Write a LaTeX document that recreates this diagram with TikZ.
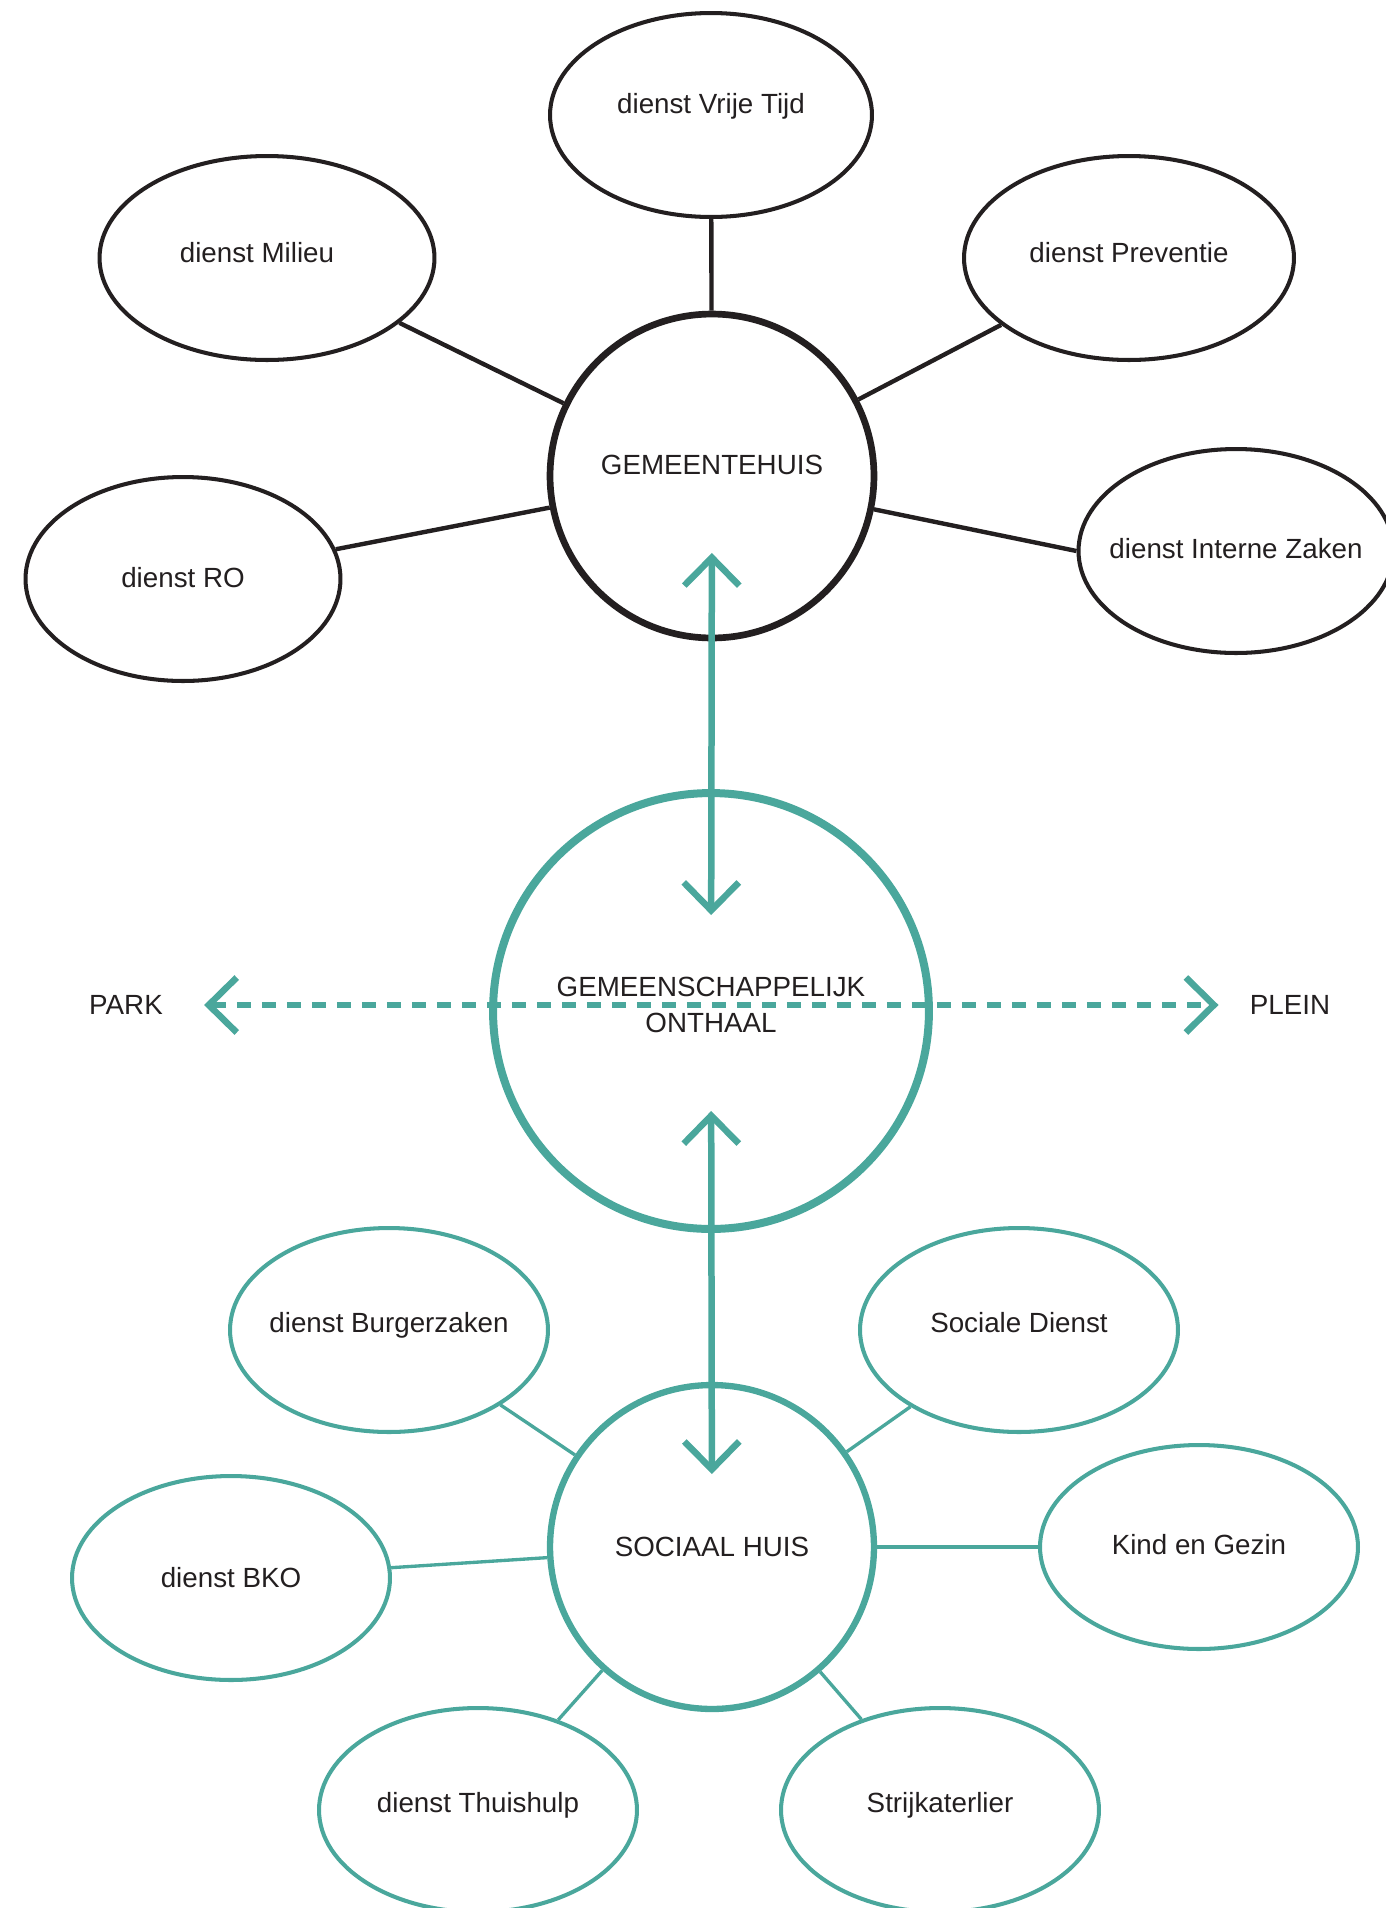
\documentclass[tikz,border=0pt]{standalone}
\usepackage{fontspec}
\setmainfont{Liberation Sans}
\usetikzlibrary{arrows.meta,shapes.geometric}
\definecolor{inkt}{HTML}{231F20}
\definecolor{groen}{HTML}{4AA79C}

\begin{document}
\begin{tikzpicture}[
		x=0.02cm, y=-0.02cm,
		every node/.style={inner sep=0pt, text=inkt, font=\fontsize{15.8}{20.7}\selectfont},
		every label/.append style={align=center, yshift=0.1cm},
		dienst/.style={ellipse, draw=inkt, line width=2.3pt, minimum width=6.36cm, minimum height=4.08cm},
		welzijn/.style={dienst, draw=groen},
		huis/.style={circle, draw=inkt, line width=3.8pt, minimum size=6.48cm},
		lijn/.style={draw=inkt, line width=2.5pt},
		groenlijn/.style={draw=groen, line width=1.9pt},
		pijl/.style={draw=groen, line width=0.13cm,
			{Straight Barb[sharp, length=0.56cm, width=1.1cm]}-{Straight Barb[sharp, length=0.56cm, width=1.1cm]}}
	]
  \useasboundingbox (0,0) rectangle (1386,1908);
  % gemeentehuis
  \node (gemeentehuis) [huis, label={[yshift=0.12cm]center:GEMEENTEHUIS}] at (712,476) {};
  \node (vrije_tijd) [dienst, minimum width=6.44cm, label={[yshift=0.08cm]center:dienst Vrije Tijd}] at (711,115) {};
  \node (milieu) [dienst, minimum width=6.7cm, label={[xshift=-0.2cm]center:dienst Milieu}] at (267,258) {};
  \node (preventie) [dienst, minimum width=6.6cm, label={center:dienst Preventie}] at (1129,258) {};
  \node (ro) [dienst, minimum width=6.3cm, label={[yshift=-0.08cm]center:dienst RO}] at (183,579) {};
  \node (interne_zaken) [dienst, minimum width=6.3cm, label={[yshift=-0.06cm]center:dienst Interne Zaken}] at (1236,551) {};
  \draw [lijn] (gemeentehuis) -- (vrije_tijd);
  \draw [lijn] (gemeentehuis) -- (milieu);
  \draw [lijn] (gemeentehuis) -- (preventie);
  \draw [lijn] (gemeentehuis) -- (ro);
  \draw [lijn] (gemeentehuis) -- (interne_zaken.west);

  % onthaal
  \node (onthaal) [huis, draw=groen, line width=0.16cm, minimum size=8.72cm,
    label={[yshift=0.02cm]center:GEMEENSCHAPPELIJK\\ONTHAAL}] at (711,1011) {};
  \node (park) at (126,1005) {PARK};
  \node (plein) at (1290,1005) {PLEIN};
  \draw [pijl, dash pattern=on 0.28cm off 0.22cm, shorten <=0.82cm, shorten >=0.62cm] (park) -- (plein);
  \draw [pijl, shorten <=1.54cm, shorten >=1.92cm] (gemeentehuis.center) -- (onthaal.center);

  % sociaal huis
  \node (sociaal_huis) [huis, draw=groen, line width=3.6pt, label={[yshift=-0.1cm]center:SOCIAAL HUIS}] at (712,1547) {};
  \node (burgerzaken) [welzijn, label={[yshift=0cm]center:dienst Burgerzaken}] at (389,1330) {};
  \node (sociale_dienst) [welzijn, label={[yshift=0.04cm]center:Sociale Dienst}] at (1019,1330) {};
  \node (bko) [welzijn, label={[yshift=-0.1cm]center:dienst BKO}] at (231,1578) {};
  \node (kind_gezin) [welzijn, label={[yshift=-0.06cm]center:Kind en Gezin}] at (1199,1547) {};
  \node (thuishulp) [welzijn, label={center:dienst Thuishulp}] at (478,1810) {};
  \node (strijkatelier) [welzijn, label={center:Strijkaterlier}] at (940,1810) {};
  \draw [groenlijn] (sociaal_huis) -- (burgerzaken);
  \draw [groenlijn] (sociaal_huis) -- (sociale_dienst);
  \draw [groenlijn] (sociaal_huis) -- (bko);
  \draw [groenlijn] (sociaal_huis) -- (kind_gezin);
  \draw [groenlijn] (sociaal_huis) -- (thuishulp);
  \draw [groenlijn] (sociaal_huis) -- (strijkatelier);
  \draw [pijl, shorten <=2cm, shorten >=1.46cm] (onthaal.center) -- (sociaal_huis.center);
\end{tikzpicture}
\end{document}
